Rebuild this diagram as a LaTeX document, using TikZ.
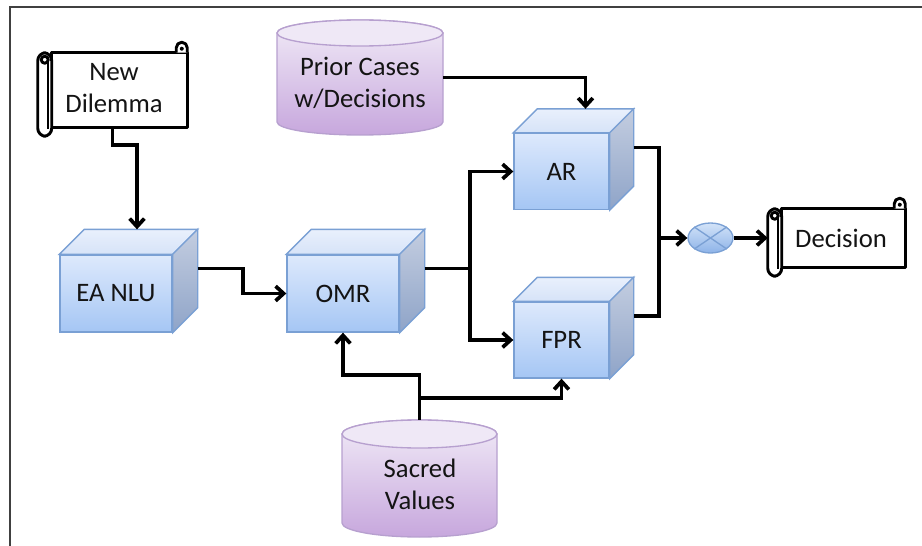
\documentclass[tikz,border=0pt]{standalone}
\usepackage{fontspec}
\setmainfont{Carlito}
\usetikzlibrary{calc,arrows.meta,shapes.geometric}
\definecolor{framecol}{HTML}{404040}
\definecolor{cubeedge}{HTML}{7AA0D4}
\definecolor{cubefronttop}{HTML}{DDE9FC}
\definecolor{cubefrontbot}{HTML}{A5C6F4}
\definecolor{cubetopA}{HTML}{E9F0FC}
\definecolor{cubetopB}{HTML}{D6E3F8}
\definecolor{cuberightA}{HTML}{C3CDE0}
\definecolor{cuberightB}{HTML}{8FA4C8}
\definecolor{cyledge}{HTML}{B7A0CF}
\definecolor{cylcap}{HTML}{EFE8F6}
\definecolor{cyltop}{HTML}{F1EBF7}
\definecolor{cylbot}{HTML}{C7A7DD}
\definecolor{crosstop}{HTML}{D3E3F8}
\definecolor{crossbot}{HTML}{8DB3E8}
\definecolor{textcol}{HTML}{141414}
\newcommand\cubefaces[2]{%
  \shadedraw[draw=cubeedge, line width=1pt, top color=cubetopA, bottom color=cubetopB]
    (#1.north west) -- ++(#2,-#2) -- ($(#1.north east)+(#2,-#2)$) -- (#1.north east) -- cycle;
  \shadedraw[draw=cubeedge, line width=1pt, top color=cuberightA, bottom color=cuberightB]
    (#1.north east) -- ++(#2,-#2) -- ($(#1.south east)+(#2,-#2)$) -- (#1.south east) -- cycle;
}
\newcommand\scrollshape[1]{%
  \draw[scrollline, fill=white] ($(#1.north west)+(14,0)$) rectangle (#1.south east);
  \draw[scrollline, fill=white] ($(#1.north east)+(-11,0)$) -- ++(0,-5)
    arc[start angle=180, end angle=360, radius=5.5] -- (#1.north east);
  \fill ($(#1.north east)+(-5.5,-4)$) circle[radius=2];
  \draw[scrollline, fill=white, rounded corners=6] (#1.north west) rectangle ($(#1.south west)+(14,9)$);
  \draw[scrollline, fill=white] ($(#1.north west)+(7,7)$) circle[radius=3.5];
  \draw[line width=1.2pt] ($(#1.north west)+(10.5,7)$) -- ($(#1.south west)+(10.5,2)$);
}
\begin{document}
\begin{tikzpicture}[x=0.75pt,y=-0.75pt,
  conn/.style={line width=2.8pt, black, miter limit=10},
  arr/.style={-{Straight Barb[length=6pt,width=11pt]}},
  txt/.style={font=\fontsize{20}{24}\selectfont, text=textcol, align=center, inner sep=0pt},
  cubebig/.style={draw=cubeedge, line width=1pt, top color=cubefronttop, bottom color=cubefrontbot,
    minimum width=84pt, minimum height=57.75pt, inner sep=0pt, txt},
  cubesmall/.style={cubebig, minimum width=71.25pt, minimum height=57pt},
  scrollline/.style={line width=2.2pt, black, line join=round},
  scrollbox/.style={inner sep=0pt, draw=none},
  cylbox/.style={inner sep=0pt, draw=none, minimum width=#1, minimum height=87.75pt},
  cylpaint/.style={draw=cyledge, line width=1pt, top color=cyltop, bottom color=cylbot}
]
\useasboundingbox (0,0) rectangle (922,546);
\draw[line width=1.5pt, framecol] (10,546) -- (10,7) -- (922,7);

% cylinders
\node[cylbox=124.5pt] (pc) at (360,77.5) {};
\shadedraw[cylpaint] (277,33) -- (277,122) arc[start angle=180, end angle=0, x radius=83, y radius=13]
  -- (443,33) arc[start angle=0, end angle=-180, x radius=83, y radius=13] -- cycle;
\draw[fill=cylcap, draw=cyledge, line width=1pt] (360,33) ellipse [x radius=83, y radius=13];
\node[txt] (pctext) at (360,83) {Prior Cases\\w/Decisions};

\node[cylbox=116.25pt] (sv) at (419.5,478.5) {};
\shadedraw[cylpaint] (342,434) -- (342,523) arc[start angle=180, end angle=0, x radius=77.5, y radius=14]
  -- (497,434) arc[start angle=0, end angle=-180, x radius=77.5, y radius=14] -- cycle;
\draw[fill=cylcap, draw=cyledge, line width=1pt] (419.5,434) ellipse [x radius=77.5, y radius=14];
\node[txt] (svtext) at (420,484) {Sacred\\Values};

% cubes
\node[cubebig] (ea) at (116,293.5) {EA NLU};
\cubefaces{ea}{25}
\node[cubebig] (omr) at (343,293.5) {OMR};
\cubefaces{omr}{25}
\node[cubesmall] (ar) at (561.5,171.5) {AR};
\cubefaces{ar}{24}
\node[cubesmall] (fpr) at (561.5,340) {FPR};
\cubefaces{fpr}{24}

% scrolls
\node[scrollbox, minimum width=111.75pt, minimum height=55.5pt] (nd) at (112.5,90) {};
\scrollshape{nd}
\node[txt] (ndtext) at (114,88) {New\\Dilemma};
\node[scrollbox, minimum width=102.75pt, minimum height=43.5pt] (dec) at (836.5,238) {};
\scrollshape{dec}
\node[txt] (dectext) at (841,238) {Decision};

% combiner
\node[ellipse, draw=cubeedge, line width=1pt, top color=crosstop, bottom color=crossbot,
  minimum width=33.75pt, minimum height=22.5pt, inner sep=0pt] (cx) at (710.5,238) {};
\draw[cubeedge, line width=1pt] (cx.north west) -- (cx.south east);
\draw[cubeedge, line width=1pt] (cx.north east) -- (cx.south west);

% junction coordinates
\coordinate (j1) at ($(omr.east)+(70,-25)$);
\coordinate (j2) at ($(cx.west)+(-28,0)$);
\coordinate (svj) at ($(sv.north)+(0,-22)$);

% connectors
\draw[conn, arr] (nd.south) -- ++(0,18) -| ($(ea.north)+(21,-25)$);
\draw[conn, arr] ($(ea.east)+(25,-25)$) -- ++(45,0) |- (omr.west);
\draw[conn] ($(omr.east)+(25,-25)$) -- (j1);
\draw[conn, arr] (j1) |- (ar.west);
\draw[conn, arr] (j1) |- (fpr.west);
\draw[conn, arr] (pc.east) -| ($(ar.north)+(24,-24)$);
\draw[conn] ($(ar.east)+(24,-24)$) -| (j2) |- ($(fpr.east)+(24,-24)$);
\draw[conn, arr] (j2) -- (cx.west);
\draw[conn, arr] (cx.east) -- (cx.east -| dec.west);
\draw[conn, arr] (sv.north) -- ++(0,-45) -| (omr.south);
\draw[conn, arr] (svj) -| (fpr.south);
\end{tikzpicture}
\end{document}
